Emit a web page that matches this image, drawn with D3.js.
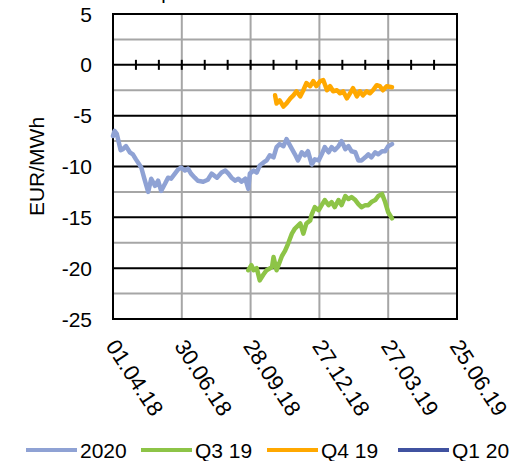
<html>
<head>
<script src="https://d3js.org/d3.v7.min.js"></script>
<style>
body { margin: 0; background: #fff; }
svg { font-family: 'Liberation Sans', Arial, sans-serif; }
.grid-minor { stroke: #a6a6a6; stroke-width: 2; }
.grid-major { stroke: #000; stroke-width: 2; }
.series { fill: none; stroke-width: 4.5; stroke-linejoin: round; stroke-linecap: round; }
</style>
</head>
<body>
<svg></svg>
<script>

var width = 518,
    height = 461;

// dates are days after 01.04.18
var startLabel = "01.04.18";
var xTickLabels = ["01.04.18", "30.06.18", "28.09.18", "27.12.18", "27.03.19", "25.06.19"];
var yTicks = [5, 0, -5, -10, -15, -20, -25];

var seriesNames = ["2020", "Q3 19", "Q4 19", "Q1 20"];
var seriesColors = ["#8fa2d4", "#8dc447", "#ffa800", "#4052a0"];

var days2020 = [0, 2, 5, 10, 13, 17, 22, 26, 30, 37, 41, 46, 50, 55, 59, 63, 68, 72, 76, 81, 85, 89, 94, 98, 102, 107, 111, 118, 124,
  129, 136, 142, 147, 151, 155, 160, 164, 168, 173, 177, 179, 184, 188, 192, 197, 201, 205, 210, 214, 218, 223, 227, 232, 238,
  242, 247, 251, 255, 260, 264, 269, 273, 277, 282, 286, 290, 295, 299, 304, 308, 312, 317, 321, 325, 330, 334, 338, 343, 347,
  352, 356, 360, 365];
var vals2020 = [-7.0, -6.5, -6.8, -8.4, -8.3, -8.0, -8.6, -8.8, -9.3, -10.1, -11.2, -12.5, -11.2, -11.9, -11.4, -12.4, -11.7, -11.1,
  -11.2, -10.7, -10.3, -10.1, -10.4, -10.2, -10.7, -11.1, -11.4, -11.5, -11.3,
  -10.7, -11.1, -10.6, -10.4, -10.7, -11.1, -11.4, -11.2, -11.5, -11.2, -12.2, -10.7, -10.4, -10.6, -9.9, -9.6, -9.4, -8.9, -9.1,
  -8.1, -7.8, -8.0, -7.3, -8.0, -8.8, -9.4, -8.6, -8.9, -8.5, -9.8, -9.3, -9.4, -8.8, -8.1, -8.6, -8.1, -8.4, -8.0, -7.5, -8.3,
  -8.0, -8.5, -8.6, -9.4, -9.4, -9.1, -8.8, -9.1, -8.6, -8.8, -8.5, -8.5, -8.0, -7.8];

var daysQ319 = [177, 181, 184, 188, 192, 197, 201, 208, 210, 214, 221, 225, 229, 234, 238, 245, 249, 253, 258, 260, 264, 269, 273,
  277, 282, 286, 290, 295, 299, 304, 308, 312, 317, 321, 325, 330, 334, 338, 343, 347, 352, 356, 360, 365];
var valsQ319 = [-20.2, -19.7, -20.2, -20.0, -21.2, -20.6, -20.2, -19.9, -18.9, -20.2, -18.8, -18.3, -17.6, -16.6, -16.1, -15.6,
  -16.6, -15.6, -15.3, -14.7, -14.0, -14.3, -13.8, -13.3, -13.8, -13.5, -14.0, -13.3, -13.8, -12.9, -13.2, -13.0, -13.3, -13.7,
  -14.0, -13.8, -13.8, -13.5, -13.3, -12.9, -12.7, -13.5, -14.5, -15.1];

var daysQ419 = [212, 214, 218, 223, 227, 232, 236, 240, 245, 249, 253, 258, 262, 266, 271, 275, 280, 284, 288, 293, 297, 301,
  306, 310, 314, 319, 323, 327, 332, 336, 340, 345, 349, 353, 358, 365];
var valsQ419 = [-3.0, -3.8, -3.5, -4.1, -3.8, -3.3, -3.0, -2.6, -3.1, -2.5, -1.8, -2.1, -1.6, -2.1, -1.6, -1.5, -2.5, -2.1, -2.6,
  -2.5, -2.8, -2.6, -3.3, -2.8, -2.3, -3.1, -2.6, -3.0, -2.6, -2.8, -2.5, -2.0, -2.1, -2.5, -2.1, -2.2];

var daysQ120 = [];
var valsQ120 = [];

var parseDate = d3.timeParse("%d.%m.%y");
var start = parseDate(startLabel);

function series(days, vals) {
  return days.map(function(d, i) { return { date: d3.timeDay.offset(start, d), value: vals[i] }; });
}
var allSeries = [
  series(days2020, vals2020),
  series(daysQ319, valsQ319),
  series(daysQ419, valsQ419),
  series(daysQ120, valsQ120)
];

var plot = { left: 113, right: 457, top: 14, bottom: 319 };

var x = d3.scaleTime()
  .domain([parseDate(xTickLabels[0]), parseDate(xTickLabels[xTickLabels.length - 1])])
  .range([plot.left, plot.right]);

var y = d3.scaleLinear()
  .domain([-25, 5])
  .range([plot.bottom, plot.top]);

var svg = d3.select('svg')
  .attr('width', width)
  .attr('height', height);

// title, cut off by the top edge as in the original
svg.append('text')
  .attr('x', 148)
  .attr('y', -1)
  .style('font-size', '20px')
  .text('Spread');

// minor horizontal grid
var minor = d3.range(-22.5, 5, 5);
svg.append('g').selectAll('line')
  .data(minor)
  .enter().append('line')
  .attr('class', 'grid-minor')
  .attr('x1', plot.left).attr('x2', plot.right)
  .attr('y1', function(d) { return y(d); })
  .attr('y2', function(d) { return y(d); });

// vertical grid
svg.append('g').selectAll('line')
  .data(xTickLabels.slice(1, -1))
  .enter().append('line')
  .attr('class', 'grid-minor')
  .attr('x1', function(d) { return x(parseDate(d)); })
  .attr('x2', function(d) { return x(parseDate(d)); })
  .attr('y1', plot.top).attr('y2', plot.bottom);

// major horizontal grid
svg.append('g').selectAll('line')
  .data(yTicks)
  .enter().append('line')
  .attr('class', 'grid-major')
  .attr('x1', plot.left).attr('x2', plot.right)
  .attr('y1', function(d) { return y(d); })
  .attr('y2', function(d) { return y(d); });

// frame
svg.append('rect')
  .attr('x', plot.left).attr('y', plot.top)
  .attr('width', plot.right - plot.left)
  .attr('height', plot.bottom - plot.top)
  .attr('fill', 'none')
  .attr('stroke', '#000')
  .attr('stroke-width', 2);

// ticks on the zero line, every 30 days
var tickDates = d3.range(30, 450, 30).map(function(d) { return d3.timeDay.offset(start, d); });
svg.append('g').selectAll('line')
  .data(tickDates)
  .enter().append('line')
  .attr('x1', function(d) { return x(d); })
  .attr('x2', function(d) { return x(d); })
  .attr('y1', y(0) - 5).attr('y2', y(0) + 5)
  .attr('stroke', '#000')
  .attr('stroke-width', 2);

// y labels
svg.append('g').selectAll('text')
  .data(yTicks)
  .enter().append('text')
  .attr('x', 92)
  .attr('y', function(d) { return y(d); })
  .attr('dy', '0.36em')
  .attr('text-anchor', 'end')
  .style('font-size', '21px')
  .text(function(d) { return d; });

svg.append('text')
  .attr('transform', 'translate(44,' + (plot.top + plot.bottom) / 2 + ') rotate(-90)')
  .attr('text-anchor', 'middle')
  .style('font-size', '21px')
  .text('EUR/MWh');

// x labels
svg.append('g').selectAll('text')
  .data(xTickLabels)
  .enter().append('text')
  .attr('transform', function(d) { return 'translate(' + (x(parseDate(d)) - 8) + ',346) rotate(57)'; })
  .style('font-size', '22px')
  .text(function(d) { return d; });

// lines
var line = d3.line()
  .x(function(d) { return x(d.date); })
  .y(function(d) { return y(d.value); });

svg.append('g').selectAll('path')
  .data(allSeries)
  .enter().append('path')
  .attr('class', 'series')
  .attr('stroke', function(d, i) { return seriesColors[i]; })
  .attr('d', line);

// legend
var legendX = [26, 141, 267, 398];
var legend = svg.append('g').selectAll('g')
  .data(seriesNames)
  .enter().append('g')
  .attr('transform', function(d, i) { return 'translate(' + legendX[i] + ',450)'; });

legend.append('line')
  .attr('x1', 0).attr('x2', 51)
  .attr('stroke', function(d, i) { return seriesColors[i]; })
  .attr('stroke-width', 4);

legend.append('text')
  .attr('x', 54)
  .attr('dy', '0.36em')
  .style('font-size', '21px')
  .text(function(d) { return d; });

</script>
</body>
</html>
